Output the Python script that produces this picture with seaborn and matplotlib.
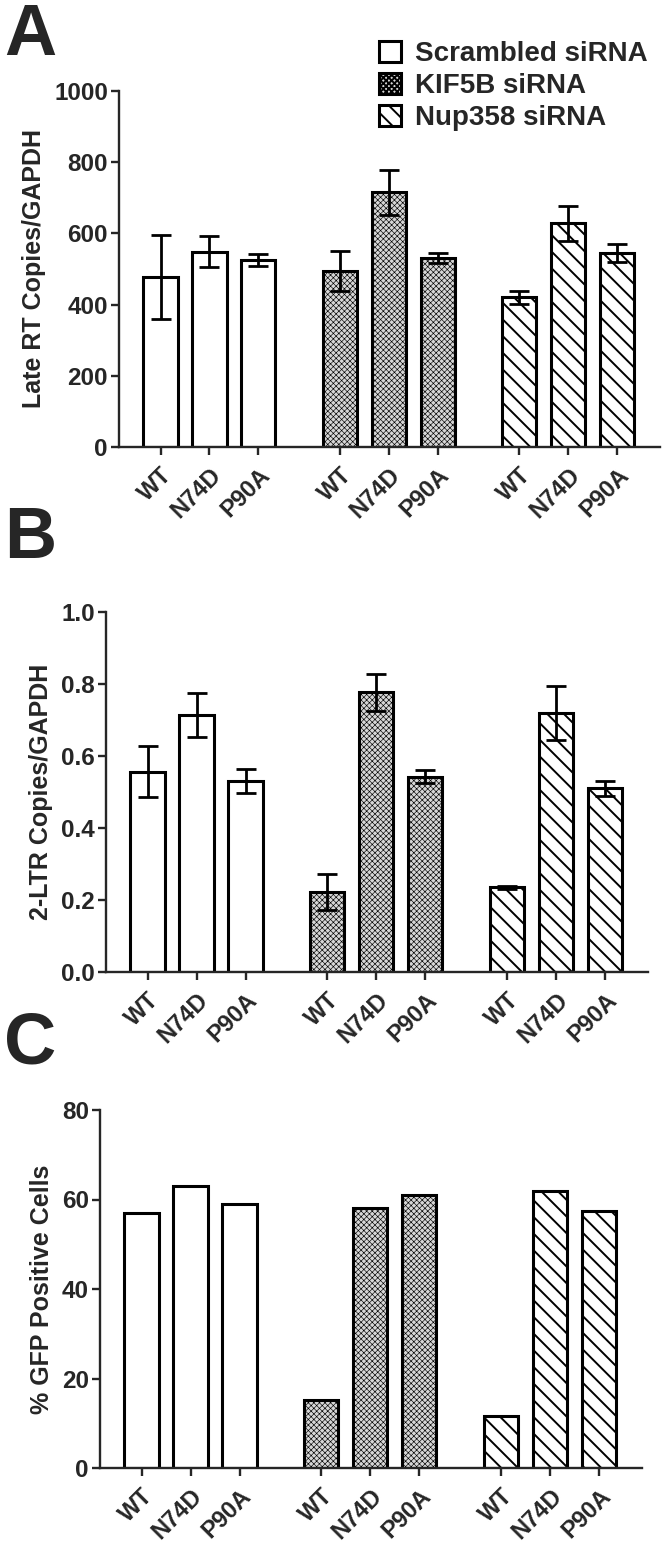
import matplotlib
matplotlib.use("Agg")
import matplotlib.pyplot as plt
from matplotlib.patches import Patch
import pandas as pd
import seaborn as sns

groups = ["Scrambled siRNA", "KIF5B siRNA", "Nup358 siRNA"]
variants = ["WT", "N74D", "P90A"]

late_rt = [477, 549, 525, 494, 715, 530, 420, 628, 545]
late_rt_err = [118, 43, 17, 56, 63, 14, 18, 50, 25]

ltr2 = [0.556, 0.713, 0.530, 0.222, 0.777, 0.542, 0.235, 0.720, 0.510]
ltr2_err = [0.071, 0.061, 0.033, 0.050, 0.052, 0.018, 0.005, 0.075, 0.020]

gfp = [57, 63, 59, 15.3, 58, 61, 11.6, 62, 57.5]

GAP = 0.67
faces = {"Scrambled siRNA": "white", "KIF5B siRNA": "#d6d6d6", "Nup358 siRNA": "white"}
hatches = {"Scrambled siRNA": "", "KIF5B siRNA": "xxxxxx", "Nup358 siRNA": "\\\\"}

sns.set_style("ticks")
plt.rcParams["font.family"] = ["Liberation Sans", "DejaVu Sans"]
plt.rcParams["hatch.linewidth"] = 1.4
plt.rcParams["axes.linewidth"] = 1.7


def make_df(values, errs=None):
    rows = []
    for gi, g in enumerate(groups):
        for vi, v in enumerate(variants):
            k = gi * 3 + vi
            rows.append({"pos": gi * (3 + GAP) + vi, "group": g, "variant": v,
                         "value": values[k], "err": errs[k] if errs else 0})
    return pd.DataFrame(rows)


def draw_panel(ax, df, ylim, yticks, ylabel, with_err):
    sns.barplot(data=df, x="pos", y="value", hue="group", hue_order=groups,
                palette=faces, native_scale=True, width=0.7, dodge=False,
                edgecolor="black", linewidth=2.2, errorbar=None, legend=False,
                saturation=1, ax=ax)
    for patch, g in zip(ax.patches, df["group"]):
        patch.set_hatch(hatches[g])
        if g == "KIF5B siRNA" and hasattr(patch, "set_hatch_linewidth"):
            patch.set_hatch_linewidth(0.45)
    if with_err:
        ax.errorbar(df["pos"], df["value"], yerr=df["err"], fmt="none",
                    ecolor="black", elinewidth=2.0, capsize=7, capthick=2.0, zorder=5)
    ax.set_xlim(-0.85, 2 * (3 + GAP) + 2 + 0.88)
    ax.set_ylim(*ylim)
    ax.set_yticks(yticks)
    ax.set_xticks(df["pos"])
    ax.set_xticklabels(df["variant"], rotation=45, ha="right", rotation_mode="anchor",
                       fontsize=17, fontweight="bold")
    ax.tick_params(axis="y", labelsize=17.5, width=1.7, length=6, pad=2)
    for lab in ax.get_yticklabels():
        lab.set_fontweight("bold")
    ax.tick_params(axis="x", width=1.7, length=6, pad=6)
    ax.set_xlabel("")
    ax.set_ylabel(ylabel, fontsize=18, fontweight="bold", labelpad=6)
    sns.despine(ax=ax)


fig = plt.figure(figsize=(6.66, 15.53), dpi=100)
H = 1553
W = 666
ax_a = fig.add_axes([119 / W, (H - 447) / H, (660 - 119) / W, (447 - 91) / H])
ax_b = fig.add_axes([106 / W, (H - 972) / H, (648 - 106) / W, (972 - 612) / H])
ax_c = fig.add_axes([100 / W, (H - 1468) / H, (642 - 100) / W, (1468 - 1110) / H])

draw_panel(ax_a, make_df(late_rt, late_rt_err), (0, 1000), [0, 200, 400, 600, 800, 1000],
           "Late RT Copies/GAPDH", True)
draw_panel(ax_b, make_df(ltr2, ltr2_err), (0, 1.0), [0.0, 0.2, 0.4, 0.6, 0.8, 1.0],
           "2-LTR Copies/GAPDH", True)
ax_b.yaxis.set_major_formatter(matplotlib.ticker.FormatStrFormatter("%.1f"))
draw_panel(ax_c, make_df(gfp), (0, 80), [0, 20, 40, 60, 80],
           "% GFP Positive Cells", False)

for letter, ypix in [("A", 2), ("B", 505), ("C", 1010)]:
    fig.text(4 / W, 1 - ypix / H, letter, fontsize=52, fontweight="bold", va="top")

handles = [Patch(facecolor=faces[g], edgecolor="black", linewidth=2.2, hatch=hatches[g])
           for g in groups]
fig.legend(handles, groups, loc="upper left", bbox_to_anchor=(368 / W, 1 - 30 / H),
           frameon=False, prop={"size": 20, "weight": "bold"}, handlelength=0.8,
           handleheight=0.75, handletextpad=0.5, labelspacing=0.22, borderaxespad=0)

fig.savefig("out.png", dpi=100)
plt.close()
